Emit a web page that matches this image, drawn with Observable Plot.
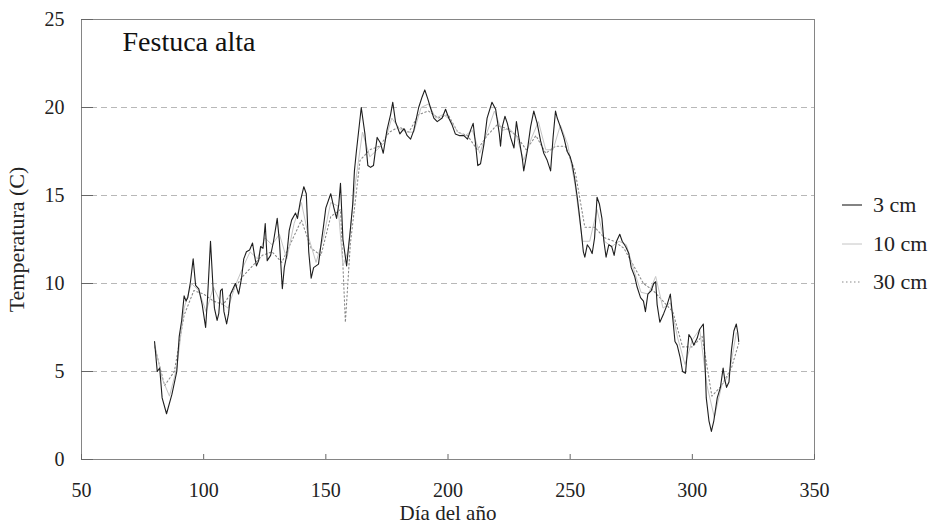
<!DOCTYPE html>
<html>
<head>
<meta charset="utf-8">
<script src="https://cdn.jsdelivr.net/npm/d3@7"></script>
<script src="https://cdn.jsdelivr.net/npm/@observablehq/plot@0.6"></script>
<style>
  html, body { margin: 0; padding: 0; background: #fff; }
  #wrap { position: relative; width: 932px; height: 524px; font-family: "Liberation Serif", "DejaVu Serif", serif; }
  #wrap svg text { font-family: "Liberation Serif", "DejaVu Serif", serif; }
  .key { position: absolute; left: 840px; display: flex; align-items: center; font-family: "Liberation Serif", "DejaVu Serif", serif; font-size: 22px; color: #222; white-space: nowrap; }
  .key svg { margin-right: 9px; }
</style>
</head>
<body>
<div id="wrap"></div>
<script>
// Soil temperature under tall fescue, daily values by depth
const panelTitle = "Festuca alta";
const depthNames = ["3 cm", "10 cm", "30 cm"];

const days3 = [79.9,81,82,83,84.8,87,89,90,91,92,92.8,93.5,94.6,95.7,96.7,98,99.4,100.8,101.6,102.8,
  103.9,104.4,105.5,106.2,106.9,107.6,108.3,109.4,110.2,111,113,114.3,115.5,116.4,117.5,118.8,120,120.8,121.6,122.5,
  123.3,124.3,125.2,126,127.4,128.6,130.1,131,132.2,133,134,135,136,137.6,138.4,139.6,141,142,143,144,
  145,146,147,148,149,150,152,153.3,154.4,155.3,156,157,158.5,160,161,161.7,162.5,164.5,166,167.2,
  168.3,169.5,171,172.3,173.5,175,176.5,177.4,178.5,180.3,182,183.3,184.7,186,188,189.4,190.5,191.7,192.8,194.2,
  195.6,197.6,199,200.3,201.7,203,204.8,206.5,208,209.2,210.3,211.3,212.2,213.3,214.7,216,218,219.5,221,221.5,
  222.2,223.3,224.3,225.6,227,228,229,230.4,231,232.4,233.8,235.1,236.5,237.9,239.2,240.6,242,243,244,244.7,
  246,247.4,248.8,250,250.8,251.8,252.9,253.6,254.5,255.4,256,257,258,259,260,261,262,263,263.8,264.7,
  265.8,267,268,269,270.3,271.3,272.7,274,275,276.4,277.4,278.8,280,280.8,281.8,283.2,284.2,285,285.6,286.7,
  288.3,289.7,291,291.8,292.9,293.8,295,296,297.2,298,298.6,299.5,300.6,302,303,304.5,305,305.7,306.8,307.8,
  308.8,310.2,311.5,312.6,313.2,314,315,316,317,318,318.6,319];
const temps3 = [6.7,5.0,5.2,3.5,2.6,3.7,5.0,7.0,7.9,9.3,9.0,9.2,10.1,11.4,9.9,9.7,8.8,7.5,9.2,12.4,
  9.6,8.6,7.9,8.3,9.6,9.7,8.4,7.7,8.3,9.4,10.0,9.4,10.3,11.4,11.8,11.9,12.3,11.6,11.0,11.3,
  12.1,12.0,13.4,11.3,11.6,12.4,13.7,12.4,9.7,10.9,11.6,13.0,13.6,14.0,13.7,14.7,15.5,15.1,11.8,10.3,
  10.9,11.0,11.1,12.2,13.2,14.3,15.1,14.3,13.7,14.5,15.7,12.5,11.0,13.0,14.5,16.4,17.5,20.0,18.5,16.7,
  16.6,16.7,18.3,18.0,17.4,18.7,19.6,20.3,19.2,18.5,18.8,18.4,18.2,18.7,20.0,20.6,21.0,20.5,20.0,19.4,
  19.2,19.4,19.9,19.4,19.0,18.5,18.4,18.4,18.2,18.7,19.1,17.9,16.7,16.8,17.9,19.4,20.3,19.9,18.5,17.8,
  18.9,19.5,19.1,18.3,17.7,19.2,18.3,17.1,16.4,17.5,18.9,19.8,19.1,18.1,17.4,17.0,16.4,18.3,19.8,19.4,
  18.9,18.3,17.5,17.2,16.8,16.0,14.9,14.1,13.0,11.8,11.5,12.2,12.0,11.7,12.6,14.9,14.5,13.7,12.4,11.5,
  12.2,12.1,11.6,12.4,12.8,12.4,12.1,11.7,10.9,10.4,9.8,9.2,9.0,8.4,9.4,9.6,10.0,10.1,8.8,7.8,
  8.3,8.8,9.4,8.3,6.7,6.5,5.8,5.0,4.9,6.2,7.1,6.9,6.5,6.9,7.4,7.7,6.2,3.5,2.2,1.6,
  2.2,3.5,4.1,5.2,4.6,4.1,4.4,6.2,7.3,7.7,7.2,6.7];

const days10 = [80,83,86,89,92,95,98,101,104,107,110,113,116,119,122,125,128,131,134,137,140,143,146,149,152,155,
  157,159,162,165,168,171,174,177,180,183,186,189,192,195,198,201,204,207,210,213,216,219,222,225,228,231,234,237,
  240,243,246,249,252,255,258,261,264,267,270,273,276,279,282,285,288,291,294,297,300,303,306,309,312,315,318];
const temps10 = [6.5,4.6,3.6,5.2,8.6,10.0,9.6,8.4,9.8,8.9,8.6,9.9,10.9,11.8,11.4,12.6,12.2,12.8,11.4,13.4,
  14.6,12.6,11.2,12.6,14.6,14.4,11.0,11.8,15.6,18.6,17.2,17.6,18.0,19.4,18.8,18.6,18.6,20.0,20.2,19.4,
  19.6,19.3,18.6,18.4,18.7,17.4,18.6,19.8,18.7,18.8,18.4,17.0,18.2,19.2,17.6,17.6,19.0,17.9,15.6,12.4,
  12.4,14.2,12.4,12.1,12.4,12.2,10.8,9.5,9.4,10.4,8.6,8.9,6.9,5.4,6.8,7.4,4.2,2.4,4.2,4.8,7.2];

const days30 = [80,84,88,92,96,100,104,108,112,116,120,124,128,132,136,140,144,148,152,156,158,160,
  164,168,172,176,180,184,188,192,196,200,204,208,212,216,220,224,228,232,236,240,244,248,252,256,260,264,
  268,272,276,280,284,288,292,296,300,304,308,312,316,319];
const temps30 = [6.4,4.2,5.0,8.2,9.6,9.4,9.0,8.8,9.6,10.4,11.0,11.6,11.8,11.2,12.4,13.6,12.0,11.6,13.8,14.2,7.8,12.2,
  17.0,17.6,17.8,18.6,18.9,18.6,19.6,19.8,19.4,19.6,18.6,18.4,17.6,18.4,19.0,18.8,18.4,17.6,18.4,17.4,
  17.8,17.8,16.4,13.2,13.2,12.6,12.4,12.0,11.0,10.0,9.6,9.0,8.4,6.4,6.4,7.0,3.6,4.2,5.2,6.6];

const xTicks = [50, 100, 150, 200, 250, 300, 350];
const yTicks = [0, 5, 10, 15, 20, 25];
const gridTemps = [5, 10, 15, 20];

const toRows = (days, temps, depth) => days.map((d, i) => ({day: d, temp: temps[i], depth}));
const rows3 = toRows(days3, temps3, depthNames[0]);
const rows10 = toRows(days10, temps10, depthNames[1]);
const rows30 = toRows(days30, temps30, depthNames[2]);

const lineStyles = {
  "3 cm":  {stroke: "#1e1e1e", strokeWidth: 1.1, strokeDasharray: null},
  "10 cm": {stroke: "#c4c4c4", strokeWidth: 1, strokeDasharray: null},
  "30 cm": {stroke: "#8a8a8a", strokeWidth: 1.1, strokeDasharray: "1.5,2.5"}
};

const serif = "Liberation Serif, DejaVu Serif, serif";

const chart = Plot.plot({
  width: 932,
  height: 524,
  marginTop: 19,
  marginBottom: 65,
  marginLeft: 81,
  marginRight: 118,
  style: {fontFamily: serif, fontSize: "20px", color: "#222", background: "transparent"},
  x: {domain: [50, 350]},
  y: {domain: [0, 25]},
  marks: [
    Plot.ruleY(gridTemps, {stroke: "#b8b8b8", strokeWidth: 1, strokeDasharray: "6,4"}),
    Plot.frame({stroke: "#858585", strokeWidth: 1}),
    Plot.axisX({ticks: xTicks, tickSize: -5, tickPadding: 28, stroke: "#666", fontFamily: serif, fontSize: 20,
      label: null}),
    Plot.axisX({ticks: [], tickSize: 0, fontFamily: serif, fontSize: 21,
      label: "Día del año", labelAnchor: "center", labelOffset: 60, labelArrow: "none"}),
    Plot.axisY({ticks: yTicks, tickSize: -12, tickPadding: 29, stroke: "#666", fontFamily: serif, fontSize: 20,
      label: null}),
    Plot.axisY({ticks: [], tickSize: 0, fontFamily: serif, fontSize: 22,
      label: "Temperatura (C)", labelAnchor: "center", labelOffset: 73, labelArrow: "none"}),
    Plot.line(rows30, {x: "day", y: "temp", ...lineStyles["30 cm"]}),
    Plot.line(rows10, {x: "day", y: "temp", ...lineStyles["10 cm"]}),
    Plot.line(rows3, {x: "day", y: "temp", ...lineStyles["3 cm"]}),
    Plot.text([panelTitle], {text: d => d, frameAnchor: "top-left", dx: 41, dy: 23,
      textAnchor: "start", lineAnchor: "middle", fontSize: 28, fontFamily: serif, fill: "#111"})
  ]
});

const wrap = document.getElementById("wrap");
wrap.appendChild(chart);

// Depth key to the right of the panel
const keyTops = [205, 244, 282];
depthNames.forEach((name, i) => {
  const s = lineStyles[name];
  const item = document.createElement("div");
  item.className = "key";
  item.style.top = (keyTops[i] - 13) + "px";
  item.innerHTML = `<svg width="24" height="26"><line x1="2" x2="22" y1="13" y2="13" stroke="${s.stroke}" stroke-width="${s.strokeWidth}" ${s.strokeDasharray ? `stroke-dasharray="${s.strokeDasharray}"` : ""}/></svg><span>${name}</span>`;
  wrap.appendChild(item);
});
</script>
</body>
</html>
